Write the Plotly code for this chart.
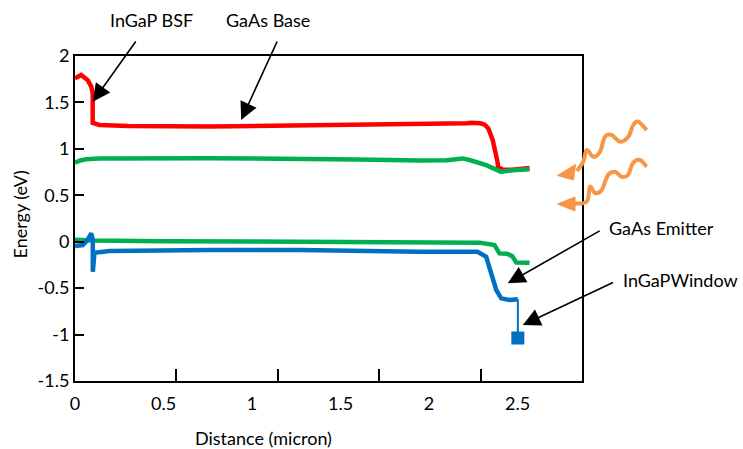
import plotly.graph_objects as go

# ---------------- data ----------------
red_x = [0, 0.035, 0.072, 0.092, 0.100, 0.100, 0.098, 0.100, 0.138, 0.30, 0.76, 1.20, 1.60, 1.95,
         2.19, 2.215, 2.24, 2.29, 2.315, 2.335, 2.36, 2.38, 2.387, 2.39, 2.42, 2.47, 2.568]
red_y = [1.76, 1.795, 1.74, 1.67, 1.60, 1.45, 1.35, 1.28, 1.257, 1.245, 1.24, 1.25, 1.26, 1.267,
         1.265, 1.275, 1.28, 1.275, 1.26, 1.22, 1.095, 0.95, 0.86, 0.80, 0.775, 0.775, 0.795]

green_top_x = [0, 0.03, 0.063, 0.138, 0.76, 1.27, 1.60, 1.946, 2.10, 2.19, 2.229, 2.323, 2.408, 2.472, 2.568]
green_top_y = [0.85, 0.875, 0.887, 0.897, 0.9, 0.895, 0.885, 0.875, 0.878, 0.897, 0.88, 0.825, 0.752, 0.77, 0.78]

green_bot_x = [0, 0.1, 0.5, 1.0, 1.5, 1.946, 2.286, 2.37, 2.398, 2.44, 2.47, 2.493, 2.568]
green_bot_y = [0.02, 0.012, 0.006, 0.0, -0.005, -0.01, -0.01, -0.037, -0.126, -0.13, -0.155, -0.223, -0.227]

blue_x = [0, 0.044, 0.071, 0.092, 0.1006, 0.1006, 0.11, 0.195, 0.76, 1.27, 1.946, 2.274, 2.323,
          2.351, 2.380, 2.408, 2.455, 2.502]
blue_y = [-0.046, -0.036, 0.02, 0.09, 0.018, -0.323, -0.118, -0.10, -0.089, -0.089, -0.108, -0.108,
          -0.162, -0.34, -0.52, -0.61, -0.628, -0.62]

window_x = [2.502, 2.502]
window_y = [-0.62, -1.037]

x_tick_labels = [0, 0.5, 1, 1.5, 2, 2.5]
y_tick_labels = [-1.5, -1, -0.5, 0, 0.5, 1, 1.5, 2]

# ---------------- layout geometry ----------------
W, H = 743, 449
L, R, T, B = 75, 582, 56, 381          # plot area in pixels
FONT = "Lato"
FS = 18

def px2paper(px, py):
    return (px - L) / (R - L), (B - py) / (B - T)

RED = "#FF0000"
GREEN = "#00B050"
BLUE = "#0070C0"
ORANGE = "#F79646"

fig = go.Figure()
lw = 4.5
fig.add_trace(go.Scatter(x=red_x, y=red_y, mode="lines", line=dict(color=RED, width=lw), hoverinfo="skip"))
fig.add_trace(go.Scatter(x=green_top_x, y=green_top_y, mode="lines", line=dict(color=GREEN, width=lw), hoverinfo="skip"))
fig.add_trace(go.Scatter(x=green_bot_x, y=green_bot_y, mode="lines", line=dict(color=GREEN, width=lw), hoverinfo="skip"))
fig.add_trace(go.Scatter(x=blue_x, y=blue_y, mode="lines", line=dict(color=BLUE, width=lw), hoverinfo="skip"))
fig.add_trace(go.Scatter(x=window_x, y=window_y, mode="lines", line=dict(color=BLUE, width=2), hoverinfo="skip"))
fig.add_trace(go.Scatter(x=window_x[-1:], y=window_y[-1:], mode="markers",
                         marker=dict(symbol="square", size=13, color=BLUE, opacity=1,
                                     line=dict(width=0)), hoverinfo="skip"))
# empty trace so the tick-only overlay axis is drawn
fig.add_trace(go.Scatter(x=[], y=[], xaxis="x2", yaxis="y", hoverinfo="skip"))

x_max = (R - L) / 177.0

fig.update_layout(
    width=W, height=H,
    margin=dict(l=L, r=W - R, t=T, b=H - B),
    paper_bgcolor="white", plot_bgcolor="white",
    showlegend=False,
    font=dict(family=FONT, size=FS, color="black"),
    xaxis=dict(range=[0, x_max], tickvals=x_tick_labels, ticktext=[str(v) for v in x_tick_labels],
               ticks="", showgrid=False, zeroline=False, showline=True, linecolor="black",
               linewidth=2, mirror=True, ticklabelstandoff=5),
    xaxis2=dict(range=[0, 5], overlaying="x", anchor="y", side="bottom", tickvals=[1, 2, 3, 4],
                ticks="inside", ticklen=12, tickwidth=2, tickcolor="black", showticklabels=False,
                showgrid=False, zeroline=False, showline=False),
    yaxis=dict(range=[-1.5, 2], tickvals=y_tick_labels, ticktext=[str(v) for v in y_tick_labels],
               ticks="inside", ticklen=9, tickwidth=2, tickcolor="black",
               showgrid=False, zeroline=False, showline=True, linecolor="black", linewidth=2,
               mirror=True, ticklabelstandoff=0),
)

# ---------------- text labels ----------------
texts = [
    ("InGaP BSF", 151.7, 20),
    ("GaAs Base", 268, 20),
    ("GaAs Emitter", 661.7, 228.3),
    ("InGaPWindow", 680, 280),
    ("Distance (micron)", 263, 438),
]
for t, px, py in texts:
    xp, yp = px2paper(px, py)
    fig.add_annotation(text=t, x=xp, y=yp, xref="paper", yref="paper", showarrow=False,
                       xanchor="center", yanchor="middle", font=dict(family=FONT, size=FS))
xp, yp = px2paper(20, 214.5)
fig.add_annotation(text="Energy (eV)", x=xp, y=yp, xref="paper", yref="paper", showarrow=False,
                   textangle=-90, xanchor="center", yanchor="middle", font=dict(family=FONT, size=FS))

# ---------------- black arrows (tip in data coords, tail offset in px) ----------------
arrows = [
    (0.1006, 1.508, 44, -61.7),
    (0.939, 1.311, 36.6, -80),
    (2.445, -0.448, 93.4, -53.3),
    (2.530, -0.897, 91.7, -43.3),
]
for x, y, ax, ay in arrows:
    fig.add_annotation(x=x, y=y, xref="x", yref="y", ax=ax, ay=ay, axref="pixel", ayref="pixel",
                       text="", showarrow=True, arrowhead=2, arrowsize=2.2, arrowwidth=1.6,
                       arrowcolor="black", standoff=0)

# ---------------- orange wavy light arrows (decoration) ----------------
def smooth_path(pts):
    pp = [px2paper(*p) for p in pts]
    d = "M %.5f %.5f" % pp[0]
    for i in range(len(pp) - 1):
        p0 = pp[i - 1] if i > 0 else pp[i]
        p1 = pp[i]
        p2 = pp[i + 1]
        p3 = pp[i + 2] if i + 2 < len(pp) else pp[i + 1]
        c1 = (p1[0] + (p2[0] - p0[0]) / 6, p1[1] + (p2[1] - p0[1]) / 6)
        c2 = (p2[0] - (p3[0] - p1[0]) / 6, p2[1] - (p3[1] - p1[1]) / 6)
        d += " C %.5f %.5f %.5f %.5f %.5f %.5f" % (c1 + c2 + p2)
    return d

def tri_path(pts):
    pp = [px2paper(*p) for p in pts]
    return "M " + " L ".join("%.5f %.5f" % p for p in pp) + " Z"

wave1 = [(646.7, 130), (638.3, 121.7), (633.3, 125), (628.3, 136.7), (620, 141.7), (611.7, 135),
         (605, 136.7), (600, 151.7), (593.3, 156.7), (586.7, 150), (583.3, 161.7), (577, 171)]
head1 = [(575.5, 164.5), (557.5, 175.5), (573.5, 180)]
wave2 = [(646.7, 166.7), (640, 160), (633, 163), (628, 175), (621.7, 176.7), (615, 171.7),
         (608, 175), (601.7, 190), (595, 193), (590, 186.7), (586.7, 201.7), (574, 203.5)]
head2 = [(575, 197), (557.5, 204), (575, 211)]

for w, h in [(wave1, head1), (wave2, head2)]:
    fig.add_shape(type="path", path=smooth_path(w), xref="paper", yref="paper",
                  line=dict(color=ORANGE, width=4), fillcolor="rgba(0,0,0,0)")
    fig.add_shape(type="path", path=tri_path(h), xref="paper", yref="paper",
                  line=dict(color=ORANGE, width=1), fillcolor=ORANGE)

fig.write_html("out.html")
